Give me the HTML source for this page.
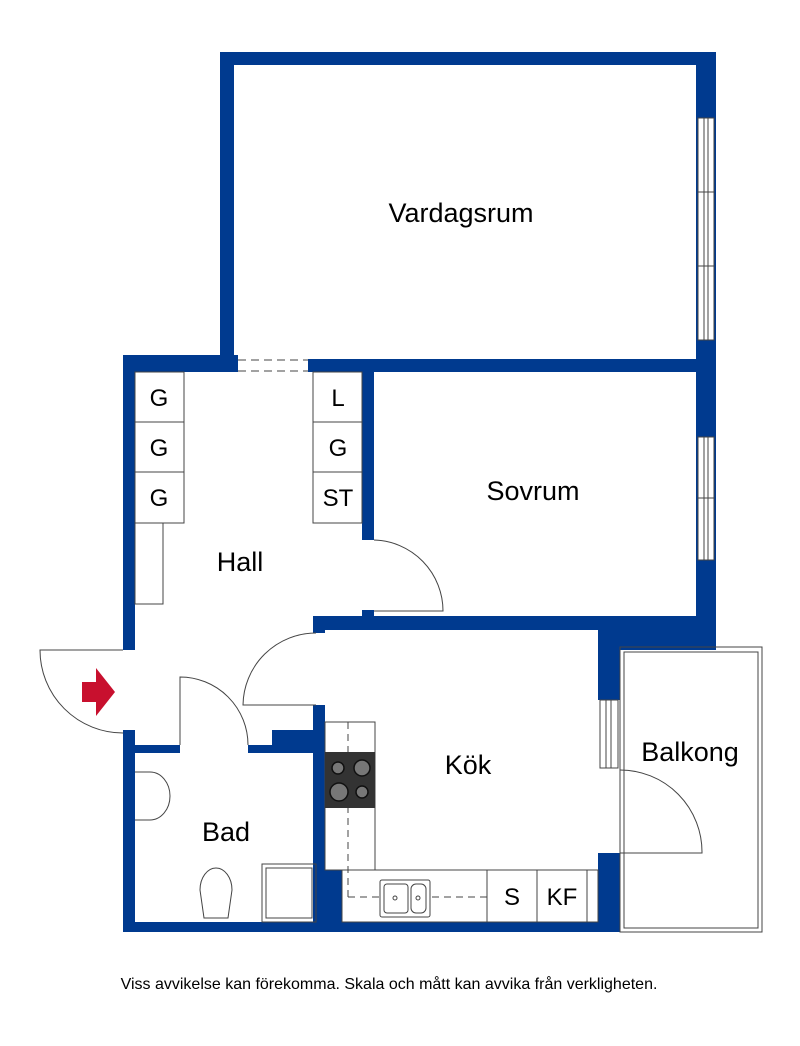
<!DOCTYPE html>
<html><head><style>html,body{margin:0;padding:0;background:#fff}svg{display:block}text{font-family:"Liberation Sans",sans-serif;fill:#000}</style></head><body>
<svg width="800" height="1046" viewBox="0 0 800 1046" xmlns="http://www.w3.org/2000/svg">
<g fill="#003a8f">
<rect x="220" y="52" width="496" height="13"/>
<rect x="220" y="52" width="14" height="316"/>
<rect x="696" y="52" width="20" height="598"/>
<rect x="308" y="359" width="408" height="13"/>
<rect x="123" y="355" width="115" height="17"/>
<rect x="123" y="355" width="12" height="295"/>
<rect x="123" y="730" width="12" height="202"/>
<rect x="362" y="372" width="12" height="168"/>
<rect x="362" y="610" width="12" height="8"/>
<rect x="313" y="616" width="403" height="14"/>
<rect x="598" y="616" width="118" height="34"/>
<rect x="598" y="630" width="22" height="70"/>
<rect x="598" y="853" width="22" height="79"/>
<rect x="313" y="616" width="12" height="17"/>
<rect x="313" y="705" width="12" height="227"/>
<rect x="313" y="870" width="29" height="62"/>
<rect x="135" y="745" width="45" height="8"/>
<rect x="248" y="745" width="68" height="8"/>
<rect x="272" y="730" width="44" height="23"/>
<rect x="123" y="922" width="497" height="10"/>
</g>
<g fill="none" stroke="#444" stroke-width="1">
<line x1="238" y1="360" x2="308" y2="360" stroke-dasharray="8,5"/>
<line x1="238" y1="371" x2="308" y2="371" stroke-dasharray="8,5"/>
<rect x="135" y="372" width="49" height="151"/><line x1="135" y1="422" x2="184" y2="422"/><line x1="135" y1="472" x2="184" y2="472"/>
<rect x="135" y="523" width="28" height="81"/>
<rect x="313" y="372" width="49" height="151"/><line x1="313" y1="422" x2="362" y2="422"/><line x1="313" y1="472" x2="362" y2="472"/>
<path d="M374 540 A71 71 0 0 1 443 611 L374 611"/>
<path d="M316 633 A73 73 0 0 0 243 705 L316 705"/>
<path d="M180 745 L180 677 A68 68 0 0 1 248 745"/>
<path d="M123 650 L40 650 A83 83 0 0 0 123 733"/>
<path d="M620 770 A82 82 0 0 1 702 853 L620 853"/>
<rect x="620" y="647" width="142" height="285"/>
<rect x="624" y="652" width="134" height="276"/>
<rect x="698" y="118" width="16" height="222" fill="#fff"/><line x1="704" y1="118" x2="704" y2="340"/><line x1="708" y1="118" x2="708" y2="340"/><line x1="698" y1="192" x2="714" y2="192"/><line x1="698" y1="266" x2="714" y2="266"/>
<rect x="698" y="437" width="16" height="123" fill="#fff"/><line x1="704" y1="437" x2="704" y2="560"/><line x1="708" y1="437" x2="708" y2="560"/><line x1="698" y1="498" x2="714" y2="498"/>
<rect x="600" y="700" width="18" height="68" fill="#fff"/><line x1="606" y1="700" x2="606" y2="768"/><line x1="611" y1="700" x2="611" y2="768"/>
<rect x="325" y="722" width="50" height="148"/>
<line x1="348" y1="722" x2="348" y2="897" stroke-dasharray="7,5"/>
<rect x="342" y="870" width="256" height="52"/>
<line x1="348" y1="897" x2="487" y2="897" stroke-dasharray="7,5"/>
<line x1="487" y1="870" x2="487" y2="922"/><line x1="537" y1="870" x2="537" y2="922"/><line x1="587" y1="870" x2="587" y2="922"/>
<rect x="380" y="880" width="50" height="37" rx="2" fill="#fff"/><rect x="384" y="884" width="24" height="29" rx="3"/><rect x="411" y="884" width="15" height="29" rx="5"/>
<circle cx="395" cy="898" r="2"/><circle cx="418" cy="898" r="2"/>
<path d="M135 772 L150 772 A20 24 0 0 1 150 820 L135 820"/>
<path d="M200 890 A16 22 0 0 1 232 890 L228 918 L204 918 Z"/>
<rect x="262" y="864" width="54" height="58"/><rect x="266" y="868" width="46" height="50"/>
</g>
<rect x="325" y="752" width="50" height="56" fill="#333"/>
<g fill="#777" stroke="#111" stroke-width="1.5">
<circle cx="338" cy="768" r="6"/><circle cx="362" cy="768" r="8"/><circle cx="339" cy="792" r="9"/><circle cx="362" cy="792" r="6"/>
</g>
<path d="M82 682 L96 682 L96 668 L115 692 L96 716 L96 702 L82 702 Z" fill="#c8102e"/>
<g font-size="27" text-anchor="middle">
<text x="461" y="222">Vardagsrum</text>
<text x="533" y="500">Sovrum</text>
<text x="240" y="571">Hall</text>
<text x="468" y="774">Kök</text>
<text x="690" y="761">Balkong</text>
<text x="226" y="841">Bad</text>
</g>
<g font-size="24" text-anchor="middle">
<text x="159" y="406">G</text><text x="159" y="456">G</text><text x="159" y="506">G</text>
<text x="338" y="406">L</text><text x="338" y="456">G</text><text x="338" y="506">ST</text>
<text x="512" y="905">S</text><text x="562" y="905">KF</text>
</g>
<text x="389" y="989" font-size="16" text-anchor="middle">Viss avvikelse kan förekomma. Skala och mått kan avvika från verkligheten.</text>
</svg>
</body></html>
